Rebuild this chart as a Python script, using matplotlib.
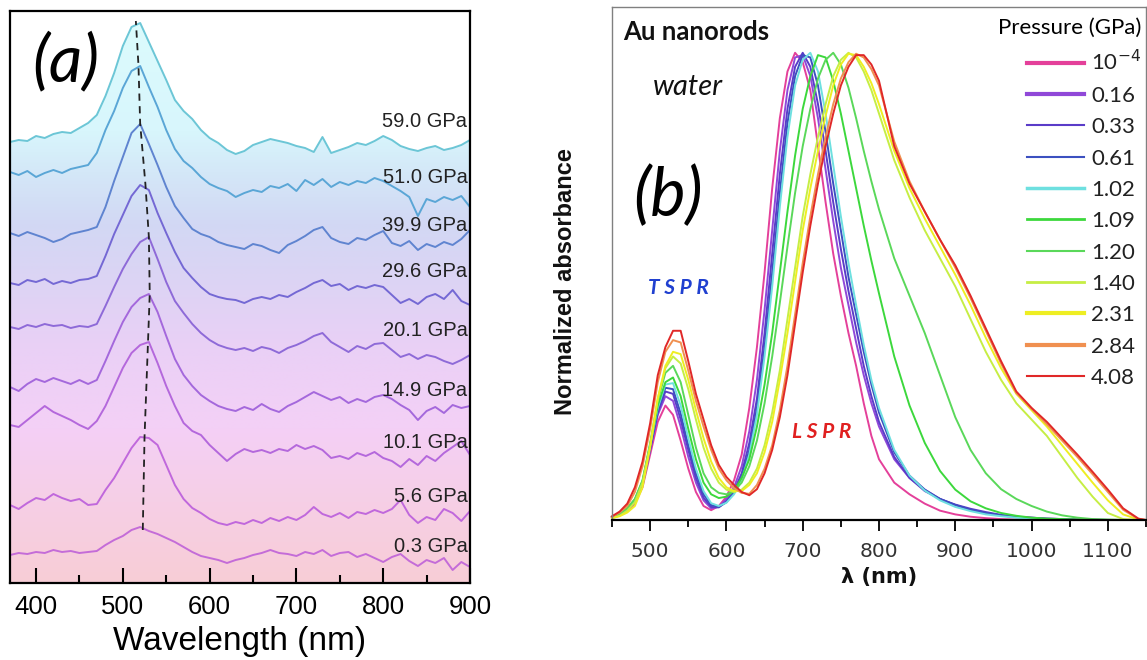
import numpy as np
import matplotlib
matplotlib.use("Agg")
import matplotlib.pyplot as plt
from matplotlib.colors import LinearSegmentedColormap
from matplotlib.lines import Line2D
from matplotlib.ticker import MultipleLocator

# ---------------- panel (a): stacked PL spectra under pressure ----------------
wl_a = np.arange(370, 901, 10)

a_0_3 = [0.28, 0.30, 0.29, 0.31, 0.30, 0.33, 0.31, 0.32, 0.30, 0.31, 0.32, 0.38, 0.43, 0.47,
         0.53, 0.56, 0.52, 0.49, 0.45, 0.41, 0.36, 0.31, 0.27, 0.25, 0.23, 0.20, 0.23, 0.25,
         0.28, 0.30, 0.33, 0.30, 0.29, 0.27, 0.31, 0.29, 0.33, 0.27, 0.30, 0.31, 0.26, 0.29,
         0.25, 0.21, 0.26, 0.29, 0.22, 0.17, 0.23, 0.20, 0.25, 0.13, 0.21, 0.16]
a_5_6 = [0.78, 0.74, 0.80, 0.85, 0.83, 0.89, 0.85, 0.82, 0.84, 0.78, 0.79, 0.93, 1.05, 1.20,
         1.35, 1.46, 1.45, 1.38, 1.18, 0.98, 0.84, 0.75, 0.70, 0.64, 0.60, 0.58, 0.61, 0.59,
         0.63, 0.60, 0.65, 0.62, 0.66, 0.63, 0.68, 0.76, 0.69, 0.66, 0.70, 0.65, 0.71, 0.69,
         0.73, 0.70, 0.74, 0.83, 0.68, 0.60, 0.66, 0.63, 0.74, 0.70, 0.62, 0.72]
a_10_1 = [1.58, 1.56, 1.63, 1.70, 1.77, 1.71, 1.67, 1.63, 1.58, 1.54, 1.62, 1.77, 1.96, 2.15,
          2.30, 2.38, 2.41, 2.20, 1.97, 1.77, 1.60, 1.52, 1.48, 1.38, 1.30, 1.22, 1.29, 1.34,
          1.31, 1.33, 1.30, 1.34, 1.32, 1.38, 1.34, 1.37, 1.33, 1.25, 1.27, 1.24, 1.30, 1.27,
          1.31, 1.25, 1.22, 1.16, 1.24, 1.18, 1.27, 1.22, 1.30, 1.36, 1.42, 1.28]
a_14_9 = [1.96, 1.92, 1.99, 2.04, 2.01, 2.05, 2.02, 1.99, 2.03, 1.99, 2.03, 2.22, 2.42, 2.61,
          2.76, 2.85, 2.89, 2.71, 2.47, 2.24, 2.08, 1.97, 1.88, 1.82, 1.77, 1.74, 1.72, 1.76,
          1.73, 1.79, 1.74, 1.71, 1.77, 1.81, 1.86, 1.91, 1.87, 1.83, 1.86, 1.80, 1.84, 1.81,
          1.86, 1.88, 1.84, 1.78, 1.73, 1.63, 1.72, 1.76, 1.70, 1.78, 1.75, 1.77]
a_20_1 = [2.56, 2.54, 2.58, 2.56, 2.59, 2.57, 2.58, 2.55, 2.57, 2.56, 2.59, 2.77, 2.96, 3.14,
          3.29, 3.41, 3.46, 3.24, 3.01, 2.82, 2.70, 2.59, 2.50, 2.43, 2.38, 2.35, 2.33, 2.35,
          2.32, 2.36, 2.34, 2.30, 2.35, 2.38, 2.42, 2.47, 2.50, 2.41, 2.36, 2.31, 2.37, 2.34,
          2.39, 2.40, 2.33, 2.26, 2.29, 2.24, 2.28, 2.26, 2.22, 2.19, 2.23, 2.28]
a_29_6 = [3.00, 2.98, 3.03, 3.01, 3.04, 2.99, 3.02, 3.00, 3.03, 3.04, 3.07, 3.27, 3.49, 3.68,
          3.87, 3.98, 3.93, 3.70, 3.50, 3.31, 3.15, 3.05, 2.96, 2.89, 2.86, 2.84, 2.83, 2.80,
          2.84, 2.86, 2.84, 2.88, 2.86, 2.91, 2.95, 3.00, 3.03, 2.97, 2.99, 2.93, 2.97, 2.95,
          2.98, 2.96, 2.88, 2.80, 2.84, 2.79, 2.86, 2.89, 2.84, 2.93, 2.82, 2.78]
a_39_9 = [3.50, 3.47, 3.51, 3.48, 3.45, 3.41, 3.44, 3.49, 3.51, 3.53, 3.56, 3.76, 4.02, 4.26,
          4.50, 4.59, 4.39, 4.18, 3.96, 3.77, 3.65, 3.54, 3.49, 3.46, 3.41, 3.38, 3.36, 3.34,
          3.39, 3.37, 3.33, 3.30, 3.38, 3.42, 3.47, 3.53, 3.56, 3.45, 3.41, 3.39, 3.45, 3.43,
          3.48, 3.52, 3.40, 3.37, 3.42, 3.33, 3.39, 3.36, 3.41, 3.38, 3.44, 3.53]
a_51_0 = [4.11, 4.08, 4.12, 4.06, 4.10, 4.13, 4.10, 4.14, 4.16, 4.18, 4.30, 4.53, 4.72, 4.95,
          5.12, 5.17, 4.96, 4.76, 4.53, 4.34, 4.22, 4.15, 4.06, 3.99, 3.95, 3.92, 3.86, 3.90,
          3.93, 3.91, 3.97, 3.95, 3.99, 3.92, 4.03, 3.98, 4.04, 3.96, 4.01, 3.98, 4.02, 4.00,
          4.05, 4.02, 3.97, 3.92, 3.86, 3.67, 3.84, 3.81, 3.86, 3.83, 3.87, 3.76]
a_59_0 = [4.41, 4.43, 4.42, 4.47, 4.45, 4.49, 4.51, 4.50, 4.55, 4.60, 4.68, 4.87, 5.10, 5.37,
          5.56, 5.60, 5.41, 5.22, 5.03, 4.83, 4.72, 4.64, 4.53, 4.45, 4.40, 4.33, 4.29, 4.32,
          4.38, 4.41, 4.44, 4.42, 4.40, 4.37, 4.35, 4.31, 4.46, 4.30, 4.33, 4.36, 4.40, 4.38,
          4.42, 4.47, 4.43, 4.37, 4.34, 4.32, 4.35, 4.37, 4.33, 4.35, 4.38, 4.43]

labels_a = ["0.3 GPa", "5.6 GPa", "10.1 GPa", "14.9 GPa", "20.1 GPa",
            "29.6 GPa", "39.9 GPa", "51.0 GPa", "59.0 GPa"]
label_y_a = [0.36, 0.87, 1.41, 1.93, 2.53, 3.11, 3.57, 4.05, 4.61]
colors_a = ["#c46cd8", "#c068dc", "#b468dc", "#a468dc", "#8e6ad8",
            "#7468d4", "#5f84d0", "#5aa6d6", "#6cc6d6"]

# peak positions joined by the dashed guide line
peak_wl = [523, 525, 529, 531, 530, 526, 520, 518, 515]
peak_val = [0.53, 1.46, 2.41, 2.89, 3.46, 3.99, 4.59, 5.18, 5.62]

# ---------------- panel (b): Au nanorods absorbance ----------------
wl_b = np.concatenate([np.arange(450, 801, 10), np.arange(820, 1141, 20), [1150]])

b_1e4 = [0.005, 0.012, 0.02, 0.035, 0.07, 0.14, 0.21, 0.245, 0.225, 0.17, 0.11, 0.06, 0.03,
         0.021, 0.03, 0.05, 0.085, 0.14, 0.24, 0.37, 0.53, 0.71, 0.86, 0.96, 1.00, 0.98, 0.92,
         0.80, 0.68, 0.57, 0.48, 0.40, 0.33, 0.25, 0.18, 0.13,
         0.08, 0.055, 0.035, 0.02, 0.012, 0.007, 0.004, 0.002, 0.001, 0, 0, 0, 0, 0, 0, 0, 0, 0]
b_016 = [0.006, 0.013, 0.022, 0.04, 0.075, 0.15, 0.225, 0.265, 0.255, 0.20, 0.135, 0.08, 0.042,
         0.025, 0.028, 0.045, 0.07, 0.115, 0.19, 0.30, 0.45, 0.62, 0.79, 0.92, 0.99, 0.995, 0.95,
         0.86, 0.75, 0.64, 0.54, 0.46, 0.38, 0.31, 0.25, 0.20,
         0.13, 0.09, 0.065, 0.045, 0.032, 0.022, 0.015, 0.01, 0.007, 0.005, 0.003, 0.002, 0.001,
         0.001, 0, 0, 0, 0]
b_033 = [0.006, 0.013, 0.022, 0.04, 0.075, 0.15, 0.23, 0.275, 0.27, 0.215, 0.15, 0.09, 0.048,
         0.028, 0.027, 0.04, 0.062, 0.10, 0.165, 0.26, 0.40, 0.57, 0.74, 0.88, 0.97, 1.0, 0.97,
         0.89, 0.79, 0.68, 0.58, 0.49, 0.41, 0.33, 0.265, 0.21,
         0.135, 0.09, 0.062, 0.045, 0.033, 0.024, 0.017, 0.011, 0.007, 0.005, 0.003, 0.002, 0.001,
         0, 0, 0, 0, 0]
b_061 = [0.006, 0.014, 0.024, 0.042, 0.08, 0.155, 0.235, 0.283, 0.28, 0.228, 0.16, 0.10, 0.055,
         0.032, 0.028, 0.038, 0.058, 0.092, 0.15, 0.24, 0.37, 0.53, 0.70, 0.85, 0.95, 0.995, 0.99,
         0.93, 0.83, 0.72, 0.62, 0.52, 0.44, 0.36, 0.29, 0.23,
         0.145, 0.095, 0.065, 0.045, 0.032, 0.022, 0.015, 0.01, 0.006, 0.004, 0.002, 0.001, 0,
         0, 0, 0, 0, 0]
b_102 = [0.006, 0.014, 0.024, 0.043, 0.082, 0.16, 0.24, 0.29, 0.293, 0.245, 0.175, 0.11, 0.062,
         0.036, 0.03, 0.037, 0.055, 0.085, 0.14, 0.225, 0.35, 0.50, 0.67, 0.82, 0.93, 0.985, 1.0,
         0.96, 0.87, 0.76, 0.65, 0.55, 0.46, 0.375, 0.30, 0.24,
         0.15, 0.095, 0.063, 0.042, 0.028, 0.019, 0.012, 0.008, 0.005, 0.003, 0.002, 0.001, 0,
         0, 0, 0, 0, 0]
b_109 = [0.006, 0.014, 0.025, 0.044, 0.083, 0.16, 0.245, 0.295, 0.305, 0.265, 0.195, 0.13, 0.08,
         0.055, 0.047, 0.05, 0.063, 0.09, 0.13, 0.20, 0.29, 0.40, 0.53, 0.66, 0.78, 0.88, 0.95,
         0.995, 0.99, 0.94, 0.87, 0.79, 0.71, 0.63, 0.555, 0.485,
         0.35, 0.245, 0.165, 0.105, 0.065, 0.04, 0.025, 0.015, 0.009, 0.005, 0.003, 0.002, 0.001,
         0, 0, 0, 0, 0]
b_120 = [0.006, 0.014, 0.025, 0.045, 0.085, 0.165, 0.255, 0.315, 0.33, 0.295, 0.225, 0.155, 0.10,
         0.07, 0.058, 0.055, 0.062, 0.08, 0.115, 0.17, 0.25, 0.35, 0.465, 0.585, 0.70, 0.80, 0.88,
         0.945, 0.985, 1.0, 0.975, 0.925, 0.86, 0.79, 0.725, 0.665,
         0.56, 0.48, 0.40, 0.31, 0.22, 0.15, 0.10, 0.066, 0.045, 0.03, 0.018, 0.01, 0.005, 0.002,
         0.001, 0, 0, 0]
b_140 = [0.004, 0.009, 0.02, 0.038, 0.08, 0.16, 0.26, 0.325, 0.35, 0.335, 0.28, 0.215, 0.155,
         0.11, 0.08, 0.065, 0.06, 0.065, 0.08, 0.11, 0.16, 0.23, 0.32, 0.43, 0.54, 0.65, 0.74,
         0.82, 0.89, 0.95, 0.985, 1.0, 0.99, 0.96, 0.92, 0.87,
         0.77, 0.69, 0.62, 0.56, 0.50, 0.43, 0.36, 0.30, 0.25, 0.215, 0.18, 0.135, 0.09, 0.05,
         0.015, 0.002, 0, 0]
b_231 = [0.004, 0.008, 0.016, 0.03, 0.07, 0.155, 0.26, 0.33, 0.36, 0.355, 0.30, 0.235, 0.175,
         0.125, 0.09, 0.07, 0.062, 0.062, 0.075, 0.10, 0.145, 0.21, 0.30, 0.40, 0.51, 0.62, 0.71,
         0.79, 0.865, 0.93, 0.975, 0.998, 0.995, 0.97, 0.935, 0.89,
         0.79, 0.71, 0.645, 0.585, 0.525, 0.46, 0.39, 0.325, 0.27, 0.235, 0.20, 0.16, 0.12, 0.08,
         0.042, 0.012, 0.001, 0]
b_284 = [0.007, 0.016, 0.03, 0.06, 0.115, 0.195, 0.295, 0.36, 0.385, 0.38, 0.32, 0.255, 0.20,
         0.15, 0.11, 0.085, 0.068, 0.058, 0.056, 0.075, 0.11, 0.16, 0.235, 0.33, 0.44, 0.55, 0.65,
         0.74, 0.82, 0.89, 0.945, 0.98, 0.998, 0.99, 0.965, 0.93,
         0.81, 0.725, 0.66, 0.60, 0.54, 0.475, 0.405, 0.335, 0.272, 0.238, 0.205, 0.17, 0.135,
         0.098, 0.06, 0.022, 0.002, 0]
b_408 = [0.008, 0.018, 0.035, 0.07, 0.125, 0.207, 0.31, 0.37, 0.405, 0.405, 0.34, 0.27, 0.215,
         0.16, 0.118, 0.092, 0.075, 0.06, 0.053, 0.066, 0.10, 0.15, 0.22, 0.31, 0.42, 0.53, 0.63,
         0.72, 0.80, 0.87, 0.93, 0.97, 0.995, 0.995, 0.975, 0.94,
         0.80, 0.72, 0.66, 0.60, 0.545, 0.48, 0.41, 0.34, 0.275, 0.24, 0.21, 0.175, 0.14, 0.103,
         0.065, 0.025, 0.003, 0]

labels_b = [r"10$^{-4}$", "0.16", "0.33", "0.61", "1.02", "1.09", "1.20", "1.40",
            "2.31", "2.84", "4.08"]
colors_b = ["#e4409a", "#9048d8", "#5a3cc8", "#3c50c0", "#6ee0e0", "#3cd83c",
            "#5ad85a", "#c6ee44", "#eeee22", "#f09050", "#e02828"]
legend_lw = [3.0, 3.0, 1.5, 1.5, 2.5, 2.0, 1.5, 2.0, 3.0, 3.0, 1.5]

# ---------------- figure ----------------
W, H = 1147, 660
fig = plt.figure(figsize=(W / 100, H / 100), dpi=100)
fig.patch.set_facecolor("white")

# ----- panel (a)
ax_a = fig.add_axes([10 / W, 77 / H, 460 / W, 572 / H])
ax_a.set_xlim(370, 900)
ax_a.set_ylim(0, 5.72)

bg_cmap = LinearSegmentedColormap.from_list(
    "pressure_bg",
    [(0.00, "#f8cdd6"), (0.14, "#f6cfe6"), (0.27, "#f4d0f6"), (0.41, "#ead0f6"),
     (0.53, "#dcd4f4"), (0.63, "#d2d8f4"), (0.72, "#d4e8f8"), (0.79, "#d8f6fc"),
     (1.00, "#dcfcfd")])
grad = np.linspace(0, 1, 256).reshape(-1, 1)
im = ax_a.imshow(grad, extent=[370, 900, 0, 5.72], origin="lower", aspect="auto",
                 cmap=bg_cmap, zorder=0, interpolation="bilinear")
under_top = ax_a.fill_between(wl_a, 0, a_59_0, facecolor="none", edgecolor="none")
im.set_clip_path(under_top.get_paths()[0], ax_a.transData)

traces_a = [a_0_3, a_5_6, a_10_1, a_14_9, a_20_1, a_29_6, a_39_9, a_51_0, a_59_0]
for tr, col in zip(traces_a, colors_a):
    ax_a.plot(wl_a, tr, color=col, lw=1.4, zorder=2)

ax_a.plot(peak_wl, peak_val, color="#222222", lw=1.3, dashes=(4, 3), zorder=3)

for lab, yv in zip(labels_a, label_y_a):
    ax_a.text(897, yv, lab, ha="right", va="center", fontsize=14.5,
              family="Liberation Sans", color="#222222", zorder=4)

ax_a.text(434, 5.21, "(a)", ha="center", va="center", fontsize=47,
          family="Lato", style="italic", color="black", zorder=4)

ax_a.set_yticks([])
ax_a.set_xticks([400, 500, 600, 700, 800, 900])
ax_a.xaxis.set_minor_locator(MultipleLocator(50))
ax_a.tick_params(axis="x", which="major", direction="in", length=11, width=1.5,
                 labelsize=18.5, pad=9, top=False)
ax_a.tick_params(axis="x", which="minor", direction="in", length=6, width=1.5, top=False)
for lab in ax_a.get_xticklabels():
    lab.set_family("Liberation Sans")
for sp in ax_a.spines.values():
    sp.set_linewidth(1.6)
    sp.set_color("black")
ax_a.set_xlabel("Wavelength (nm)", fontsize=24, family="Liberation Sans", labelpad=5)

# ----- panel (b)
ax_b = fig.add_axes([612 / W, 140 / H, 534 / W, 513 / H])
ax_b.set_xlim(450, 1150)
ax_b.set_ylim(0, 1.098)

curves_b = [b_1e4, b_016, b_033, b_061, b_102, b_109, b_120, b_140, b_231, b_284, b_408]
for cv, col in zip(curves_b, colors_b):
    ax_b.plot(wl_b, cv, color=col, lw=1.4, zorder=2, clip_on=False)

ax_b.set_yticks([])
ax_b.set_xticks(np.arange(500, 1101, 100))
ax_b.xaxis.set_minor_locator(MultipleLocator(50))
ax_b.tick_params(axis="x", which="major", direction="out", length=8, width=1.3,
                 labelsize=14.5, pad=8, labelcolor="#333333")
ax_b.tick_params(axis="x", which="minor", direction="out", length=5, width=1.3)
for name in ("left", "top", "right"):
    ax_b.spines[name].set_color("#808080")
    ax_b.spines[name].set_linewidth(1.0)
ax_b.spines["bottom"].set_color("black")
ax_b.spines["bottom"].set_linewidth(1.6)
ax_b.set_xlabel("λ (nm)", fontsize=15, fontweight="bold", family="DejaVu Sans",
                color="#111111", labelpad=4)

ax_b.text(465, 1.045, "Au nanorods", ha="left", va="center", fontsize=18.5,
          fontweight="bold", family="Lato", color="#111111")
ax_b.text(503, 0.927, "water", ha="left", va="center", fontsize=21,
          style="italic", family="Lato", color="#111111")
ax_b.text(478, 0.692, "(b)", ha="left", va="center", fontsize=48,
          style="italic", family="Lato", color="black")
ax_b.text(497, 0.497, "T S P R", ha="left", va="center", fontsize=15,
          fontweight="bold", style="italic", family="Lato", color="#2040d0")
ax_b.text(686, 0.188, "L S P R", ha="left", va="center", fontsize=15,
          fontweight="bold", style="italic", family="Lato", color="#e02020")

fig.text(565 / W, 1 - 282 / H, "Normalized absorbance", rotation=90, ha="center",
         va="center", fontsize=17, fontweight="bold", family="Liberation Sans",
         color="#111111")

handles = [Line2D([], [], color=c, lw=w) for c, w in zip(colors_b, legend_lw)]
leg = ax_b.legend(handles, labels_b, title="Pressure (GPa)", loc="upper right",
                  bbox_to_anchor=(1141 / W, 1 - 18 / H), bbox_transform=fig.transFigure,
                  frameon=False, borderaxespad=0, borderpad=0, handlelength=2.6,
                  handletextpad=0.3, labelspacing=0.51, alignment="right",
                  prop=dict(family="Lato", size=16),
                  title_fontproperties=dict(family="Lato", size=16))
for t in leg.get_texts():
    t.set_color("#222222")

fig.savefig("out.png", dpi=100)
